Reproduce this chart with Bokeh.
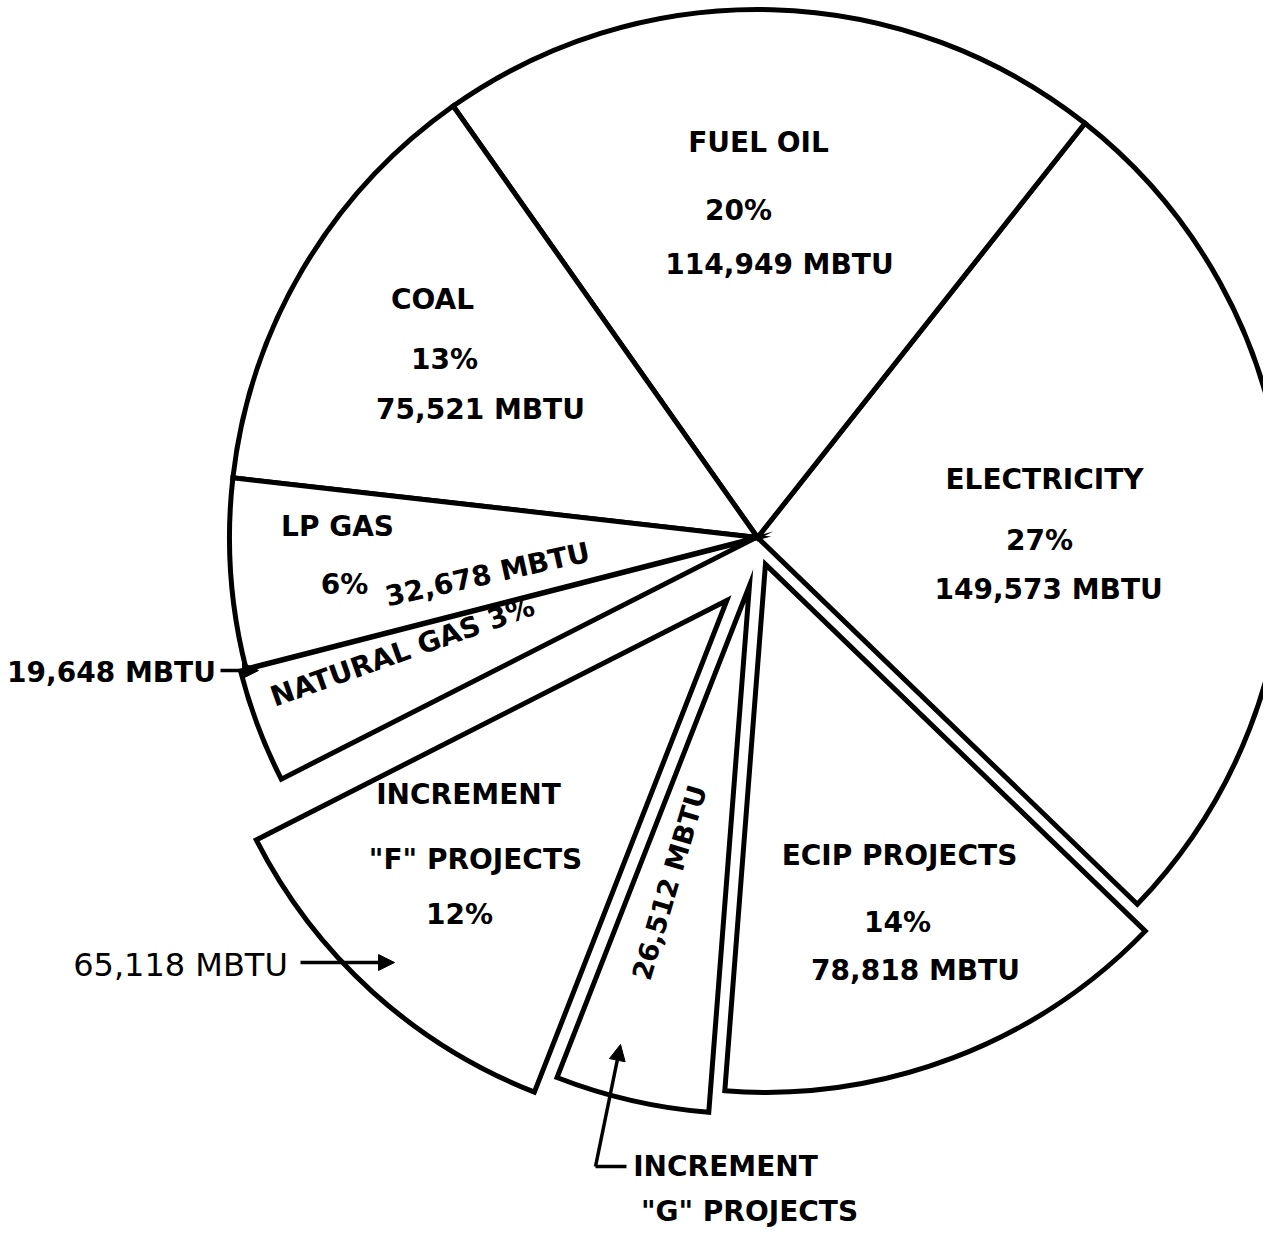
import numpy as np
from bokeh.plotting import figure
from bokeh.models import Range1d, Arrow, NormalHead, ColumnDataSource
from bokeh.core.properties import value
from bokeh.embed import file_html
from bokeh.resources import INLINE

# ---------------- data ----------------
categories = ["ELECTRICITY", "FUEL OIL", "COAL", "LP GAS", "NATURAL GAS",
              'INCREMENT "F" PROJECTS', 'INCREMENT "G" PROJECTS', "ECIP PROJECTS"]
mbtu = [149573, 114949, 75521, 32678, 19648, 65118, 26512, 78818]
percent_labels = ["27%", "20%", "13%", "6%", "3%", "12%", "", "14%"]
mbtu_labels = ["149,573  MBTU", "114,949 MBTU", "75,521 MBTU", "32,678 MBTU",
               "19,648 MBTU", "65,118 MBTU", "26,512 MBTU", "78,818 MBTU"]

# ---------------- layout / style ----------------
H = 1251                     # reference page height in px (y is flipped below)
CX, CY, R = 765, 545, 528    # pie centre and radius (page px)
START_DEG = -44.0            # lower edge of first slice
explode_dist = [0, 0, 0, 0, 6, 70, 49, 28]
explode_dir = [None, None, None, None, None, 244.0, 260.5, 286.5]

def Y(py):
    return H - py

vals = np.array(mbtu, dtype=float)
frac = vals / vals.sum()
ang = np.cumsum(np.concatenate([[0.0], frac * 360.0])) + START_DEG
a0 = ang[:-1]
a1 = ang[1:]
mid = (a0 + a1) / 2
xs, ys = [], []
for i in range(len(vals)):
    d = explode_dir[i] if explode_dir[i] is not None else mid[i]
    xs.append(CX + explode_dist[i] * np.cos(np.radians(d)))
    ys.append(Y(CY) + explode_dist[i] * np.sin(np.radians(d)))

src = ColumnDataSource(dict(x=xs, y=ys, a0=np.radians(a0), a1=np.radians(a1),
                            cat=categories, v=mbtu))

p = figure(width=1263, height=1235, x_range=Range1d(8, 1271), y_range=Range1d(8, 1243),
           output_backend="svg", toolbar_location=None, min_border=0)
p.axis.visible = False
p.grid.visible = False
p.outline_line_color = None
p.background_fill_color = "white"

p.wedge(x="x", y="y", radius=R, start_angle="a0", end_angle="a1", source=src,
        fill_color="white", line_color="black", line_width=5, line_join="miter")

FONT = value("DejaVu Sans")
S = 28

# bold labels: (text, x, y, angle_deg, size)
lab = [
    (categories[1], 766, 150, 0, S), (percent_labels[1], 746, 218, 0, S), (mbtu_labels[1], 787, 272, 0, S),
    (categories[2], 440, 307, 0, S), (percent_labels[2], 452, 367, 0, S), (mbtu_labels[2], 488, 417, 0, S),
    (categories[0], 1052, 487, 0, S), (percent_labels[0], 1047, 548, 0, S), (mbtu_labels[0], 1061, 597, 0, S),
    (categories[3], 345, 534, 0, S), (percent_labels[3], 352, 592, 0, S),
    (mbtu_labels[3], 495, 582, 12.6, S),
    (categories[4] + " " + percent_labels[4], 410, 659, 19.5, S),
    (mbtu_labels[4], 119, 680, 0, S),
    ("INCREMENT", 476, 802, 0, S), ('"F" PROJECTS', 483, 867, 0, S), (percent_labels[5], 467, 922, 0, S),
    (mbtu_labels[6], 677, 890, 73.5, 27),
    (categories[7], 907, 863, 0, S), (percent_labels[7], 905, 930, 0, S), (mbtu_labels[7], 923, 978, 0, S),
    ("INCREMENT", 733, 1174, 0, S), ('"G" PROJECTS', 757, 1219, 0, S),
]
for t, x, y, a, s in lab:
    p.text(x=[x], y=[Y(y)], text=[t], angle=[np.radians(a)], text_font=FONT,
           text_font_style="bold", text_font_size=f"{s}px", text_color="black",
           text_align="center", text_baseline="middle")

p.text(x=[188], y=[Y(972)], text=[mbtu_labels[5]], text_font=FONT,
       text_font_style="normal", text_font_size="32px", text_color="black",
       text_align="center", text_baseline="middle")

def arrow(x0, y0, x1, y1):
    p.add_layout(Arrow(end=NormalHead(size=16, fill_color="black", line_color="black"),
                       x_start=x0, y_start=Y(y0), x_end=x1, y_end=Y(y1),
                       line_width=3.5, line_color="black"))

arrow(228, 678, 266, 678)
arrow(308, 970, 402, 970)
p.line(x=[634, 603], y=[Y(1174), Y(1174)], line_width=3.5, line_color="black")
arrow(603, 1174, 628, 1052)

open("out.html", "w").write(file_html(p, INLINE))
